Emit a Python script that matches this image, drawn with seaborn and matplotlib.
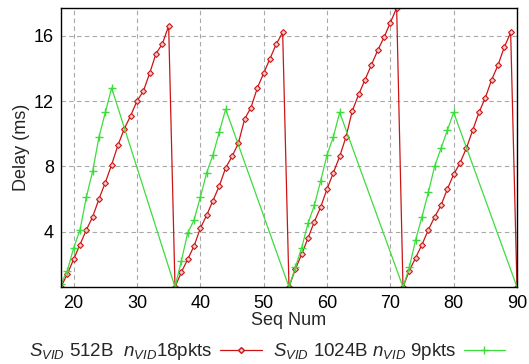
import numpy as np
import pandas as pd
import matplotlib
matplotlib.use('Agg')
import matplotlib.pyplot as plt
import seaborn as sns
from matplotlib.lines import Line2D

# 512B video packets, 18 packets per frame (one point per sequence number)
seq_512 = list(range(18, 91))
delay_512 = [0.6, 1.4, 2.3, 3.2, 4.1, 4.9, 6.0, 7.0, 8.1, 9.3, 10.3, 11.1, 12.0, 12.6, 13.7, 14.9, 15.5, 16.6,
             0.6, 1.5, 2.3, 3.1, 4.2, 5.0, 5.9, 6.8, 7.9, 8.6, 9.4, 10.9, 11.6, 12.8, 13.7, 14.6, 15.5, 16.2,
             0.6, 1.7, 2.6, 3.6, 4.6, 5.5, 6.6, 7.6, 8.6, 9.8, 11.4, 12.4, 13.3, 14.2, 15.1, 15.9, 16.8, 17.7,
             0.6, 1.6, 2.4, 3.2, 4.1, 4.9, 5.6, 6.6, 7.5, 8.2, 9.1, 10.2, 11.3, 12.2, 13.3, 14.2, 15.3, 16.2,
             0.6]

# 1024B video packets, 9 packets per frame
seq_1024 = [18, 19, 20, 21, 22, 23, 24, 25, 26,
            36, 37, 38, 39, 40, 41, 42, 43, 44,
            54, 55, 56, 57, 58, 59, 60, 61, 62,
            72, 73, 74, 75, 76, 77, 78, 79, 80,
            90]
delay_1024 = [0.8, 1.6, 3.0, 4.1, 6.1, 7.7, 9.8, 11.3, 12.8,
              0.6, 2.2, 3.9, 4.7, 6.1, 7.6, 8.7, 10.1, 11.5,
              0.6, 1.8, 3.0, 4.5, 5.6, 7.1, 8.7, 9.8, 11.3,
              0.6, 1.8, 3.5, 4.9, 6.4, 8.0, 9.1, 10.2, 11.3,
              0.6]

label_512 = r'$S_{VID}$ 512B  $n_{VID}$18pkts'
label_1024 = r'$S_{VID}$ 1024B $n_{VID}$ 9pkts'
red = '#cc1414'
green = '#3ddc3d'

sns.set_style('white')
plt.rcParams['font.family'] = ['Liberation Sans', 'DejaVu Sans']
plt.rcParams['mathtext.fontset'] = 'custom'
plt.rcParams['mathtext.it'] = 'Liberation Sans:italic'
plt.rcParams['mathtext.rm'] = 'Liberation Sans'

fig = plt.figure(figsize=(5.29, 3.64), dpi=100)
ax = fig.add_axes([0.1153, 0.2115, 0.862, 0.7665])

df_512 = pd.DataFrame({'seq': seq_512, 'delay': delay_512})
df_1024 = pd.DataFrame({'seq': seq_1024, 'delay': delay_1024})

sns.lineplot(data=df_512, x='seq', y='delay', ax=ax, color=red, lw=0.9,
             marker='D', markersize=3.0, markerfacecolor='#f6c8c8',
             markeredgecolor=red, markeredgewidth=0.8, estimator=None, sort=False)
sns.lineplot(data=df_1024, x='seq', y='delay', ax=ax, color=green, lw=0.9,
             marker='+', markersize=6, markeredgewidth=1.0,
             markeredgecolor=green, estimator=None, sort=False)

ax.set_xlim(18, 90)
ax.set_ylim(min(delay_512 + delay_1024), max(delay_512 + delay_1024))
ax.set_xticks(range(20, 91, 10))
ax.set_yticks([4, 8, 12, 16])
ax.grid(True, color='#a8a8a8', linestyle=(0, (4, 3)), linewidth=0.8)
for s in ax.spines.values():
    s.set_color('black')
    s.set_linewidth(1.0)
ax.tick_params(direction='in', length=3, labelsize=13, colors='black')
ax.tick_params(axis='x', pad=6)
ax.tick_params(axis='y', pad=5)
ax.set_xlabel('Seq Num', fontsize=13, labelpad=0)
ax.set_ylabel('Delay (ms)', fontsize=13, labelpad=3)

handles = [Line2D([], [], color=red, lw=0.9, marker='D', markersize=3.0,
                  markerfacecolor='#f6c8c8', markeredgecolor=red),
           Line2D([], [], color=green, lw=0.9, marker='+', markersize=6,
                  markeredgecolor=green)]
fig.legend(handles, [label_512, label_1024], loc='center', bbox_to_anchor=(0.505, 0.033),
           ncol=2, frameon=False, markerfirst=False, fontsize=13.5,
           handlelength=2.2, handletextpad=0.4, columnspacing=0.6, borderpad=0)

fig.savefig('out.png', dpi=100)
